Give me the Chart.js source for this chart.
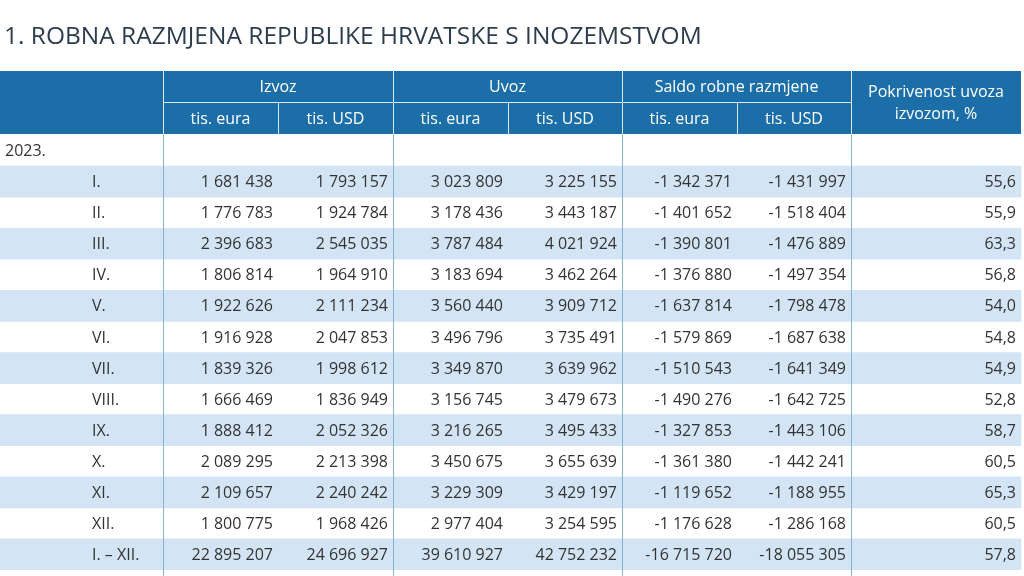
<!DOCTYPE html>
<html>
<head>
<meta charset="utf-8">
<script src="https://cdn.jsdelivr.net/npm/chart.js@4/dist/chart.umd.min.js"></script>
<style>
  body { margin: 0; background: #fff; }
  canvas { display: block; }
</style>
</head>
<body>
<canvas id="tbl" width="1024" height="576"></canvas>
<script>
// data
const rowLabels = ["2023.", "I.", "II.", "III.", "IV.", "V.", "VI.", "VII.", "VIII.", "IX.", "X.", "XI.", "XII.", "I. \u2013 XII."];
const izvozEur = [null, 1681438, 1776783, 2396683, 1806814, 1922626, 1916928, 1839326, 1666469, 1888412, 2089295, 2109657, 1800775, 22895207];
const izvozUsd = [null, 1793157, 1924784, 2545035, 1964910, 2111234, 2047853, 1998612, 1836949, 2052326, 2213398, 2240242, 1968426, 24696927];
const uvozEur = [null, 3023809, 3178436, 3787484, 3183694, 3560440, 3496796, 3349870, 3156745, 3216265, 3450675, 3229309, 2977404, 39610927];
const uvozUsd = [null, 3225155, 3443187, 4021924, 3462264, 3909712, 3735491, 3639962, 3479673, 3495433, 3655639, 3429197, 3254595, 42752232];
const saldoEur = [null, -1342371, -1401652, -1390801, -1376880, -1637814, -1579869, -1510543, -1490276, -1327853, -1361380, -1119652, -1176628, -16715720];
const saldoUsd = [null, -1431997, -1518404, -1476889, -1497354, -1798478, -1687638, -1641349, -1642725, -1443106, -1442241, -1188955, -1286168, -18055305];
const pokrivenost = [null, 55.6, 55.9, 63.3, 56.8, 54.0, 54.8, 54.9, 52.8, 58.7, 60.5, 65.3, 60.5, 57.8];

const title = "1. ROBNA RAZMJENA REPUBLIKE HRVATSKE S INOZEMSTVOM";
const groupHeads = ["Izvoz", "Uvoz", "Saldo robne razmjene"];
const subHeads = ["tis. eura", "tis. USD"];
const lastHead = ["Pokrivenost uvoza", "izvozom, %"];

// layout (x in pixels of the linear scale)
const colEdges = [0, 163, 278, 393, 508, 622, 737, 851, 1021];
const HEAD_TOP = 71, HEAD_MID = 102.5, HEAD_BOTTOM = 134;
const BLUE = "#1b6ea8";
const BAND = "#d3e4f4";
const GRID = "#86b2d6";
const TEXT = "#333";
const FONT = "'Open Sans', sans-serif";

const columns = [izvozEur, izvozUsd, uvozEur, uvozUsd, saldoEur, saldoUsd, pokrivenost];

function fmtInt(v) {
  const s = Math.abs(v).toString().replace(/\B(?=(\d{3})+(?!\d))/g, " ");
  return (v < 0 ? "-" : "") + s;
}
function fmtPct(v) {
  return v.toFixed(1).replace(".", ",");
}

const bandData = rowLabels.map((_, i) => (i % 2 === 1 ? [colEdges[0], colEdges[colEdges.length - 1]] : null));

const tablePlugin = {
  id: "tablePlugin",
  beforeDatasetsDraw(chart) {
    const ctx = chart.ctx;
    const x = chart.scales.x;
    ctx.save();
    // title
    ctx.fillStyle = "#2d3d4d";
    ctx.font = "24.5px " + FONT;
    ctx.textBaseline = "alphabetic";
    ctx.textAlign = "left";
    ctx.fillText(title, 4, 44);
    // header
    const L = x.getPixelForValue(colEdges[0]);
    const R = x.getPixelForValue(colEdges[colEdges.length - 1]);
    ctx.fillStyle = BLUE;
    ctx.fillRect(L, HEAD_TOP, R - L, HEAD_BOTTOM - HEAD_TOP);
    ctx.strokeStyle = "rgba(255,255,255,0.85)";
    ctx.lineWidth = 1;
    ctx.beginPath();
    // group separators
    [1, 3, 5, 7].forEach(k => {
      const px = Math.round(x.getPixelForValue(colEdges[k])) + 0.5;
      ctx.moveTo(px, HEAD_TOP);
      ctx.lineTo(px, HEAD_BOTTOM);
    });
    [2, 4, 6].forEach(k => {
      const px = Math.round(x.getPixelForValue(colEdges[k])) + 0.5;
      ctx.moveTo(px, HEAD_MID);
      ctx.lineTo(px, HEAD_BOTTOM);
    });
    ctx.moveTo(x.getPixelForValue(colEdges[1]), HEAD_MID);
    ctx.lineTo(x.getPixelForValue(colEdges[7]), HEAD_MID);
    ctx.stroke();
    ctx.fillStyle = "#fff";
    ctx.font = "16px " + FONT;
    ctx.textAlign = "center";
    ctx.textBaseline = "middle";
    groupHeads.forEach((h, g) => {
      const a = x.getPixelForValue(colEdges[1 + g * 2]);
      const b = x.getPixelForValue(colEdges[3 + g * 2]);
      ctx.fillText(h, (a + b) / 2, (HEAD_TOP + HEAD_MID) / 2 + 1);
      for (let s = 0; s < 2; s++) {
        const c = x.getPixelForValue(colEdges[1 + g * 2 + s]);
        const d = x.getPixelForValue(colEdges[2 + g * 2 + s]);
        ctx.fillText(subHeads[s], (c + d) / 2, (HEAD_MID + HEAD_BOTTOM) / 2 + 1);
      }
    });
    const lc = (x.getPixelForValue(colEdges[7]) + R) / 2;
    ctx.fillText(lastHead[0], lc, 92);
    ctx.fillText(lastHead[1], lc, 114);
    ctx.restore();
  },
  afterDatasetsDraw(chart) {
    const ctx = chart.ctx;
    const x = chart.scales.x;
    const y = chart.scales.y;
    ctx.save();
    // vertical rules in body
    ctx.strokeStyle = GRID;
    ctx.lineWidth = 1;
    ctx.beginPath();
    [1, 3, 5, 7].forEach(k => {
      const px = Math.round(x.getPixelForValue(colEdges[k])) + 0.5;
      ctx.moveTo(px, HEAD_BOTTOM);
      ctx.lineTo(px, chart.height);
    });
    ctx.stroke();
    // cells
    ctx.fillStyle = TEXT;
    ctx.font = "16px " + FONT;
    ctx.textBaseline = "middle";
    rowLabels.forEach((lab, i) => {
      const py = y.getPixelForValue(i) + 1;
      ctx.textAlign = "left";
      ctx.fillText(lab, i === 0 ? 5 : 92, py);
      ctx.textAlign = "right";
      columns.forEach((col, c) => {
        const v = col[i];
        if (v === null) return;
        const txt = c === columns.length - 1 ? fmtPct(v) : fmtInt(v);
        ctx.fillText(txt, x.getPixelForValue(colEdges[c + 2]) - 5, py);
      });
    });
    ctx.restore();
  }
};

new Chart(document.getElementById("tbl"), {
  type: "bar",
  data: {
    labels: rowLabels,
    datasets: [
      {
        data: bandData,
        backgroundColor: BAND,
        borderWidth: 0,
        barPercentage: 1,
        categoryPercentage: 1,
      },
    ],
  },
  options: {
    indexAxis: "y",
    responsive: false,
    animation: false,
    layout: { padding: { top: 135, bottom: 6, left: 0, right: 0 } },
    plugins: { legend: { display: false }, tooltip: { enabled: false } },
    scales: {
      x: { type: "linear", min: 0, max: 1024, display: false },
      y: { type: "category", display: false, grid: { display: false } },
    },
  },
  plugins: [tablePlugin],
});
</script>
</body>
</html>
